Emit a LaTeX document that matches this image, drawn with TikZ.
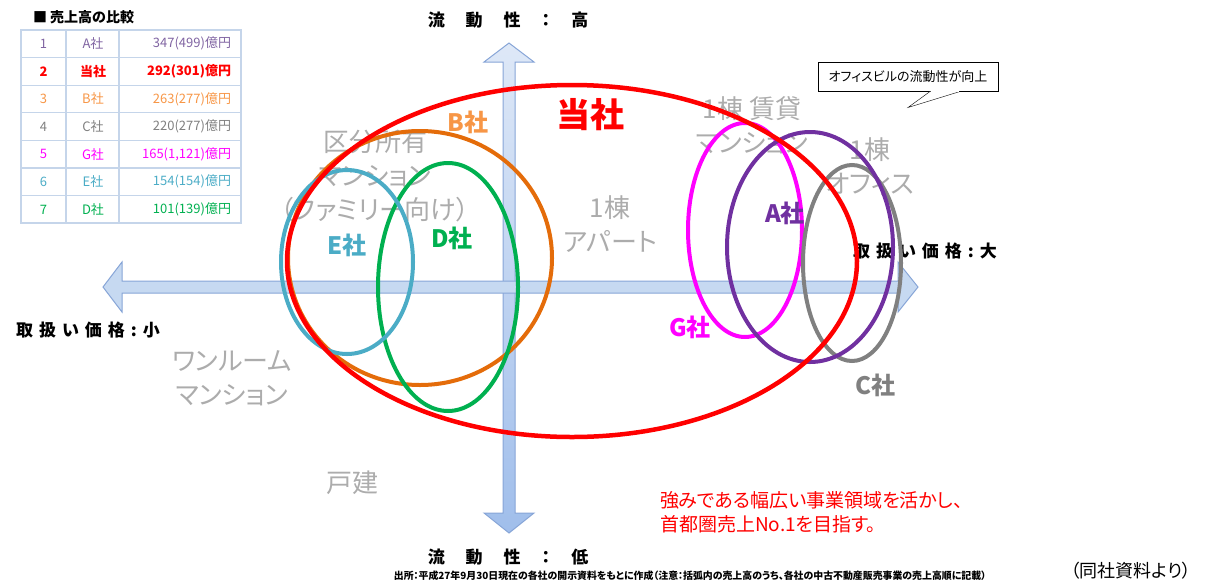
\documentclass[tikz,border=0pt]{standalone}
\usepackage{fontspec}
\setmainfont{Noto Sans CJK JP}[RawFeature={+palt}]
\usetikzlibrary{positioning}

\newcommand\fsz[2]{\fontsize{#1}{#2}\selectfont}
\def\gap{\hspace{21pt}}
\def\sgap{\hspace{6pt}}

\definecolor{axisline}{RGB}{135,165,215}
\definecolor{axisfill}{RGB}{198,217,241}
\definecolor{axistop}{RGB}{222,232,247}
\definecolor{axisbottom}{RGB}{160,190,235}
\definecolor{areagray}{RGB}{172,172,172}
\definecolor{tabgrid}{RGB}{197,213,234}
\definecolor{ringA}{RGB}{112,48,160}
\definecolor{ringB}{RGB}{228,108,10}
\definecolor{ringC}{RGB}{128,128,128}
\definecolor{ringD}{RGB}{0,176,80}
\definecolor{ringE}{RGB}{75,172,198}
\definecolor{ringG}{RGB}{255,0,255}
\definecolor{labelB}{RGB}{247,150,70}
\definecolor{tabA}{RGB}{128,100,162}

\begin{document}
\begin{tikzpicture}[x=1pt,y=-1pt,
    every node/.style={inner sep=0pt,outer sep=0pt},
    axisarrow/.style={draw=axisline,line width=1pt},
    axistext/.style={font=\bfseries\fsz{17}{17}},
    areatext/.style={text=areagray,align=center,font=\fsz{26}{34}},
    ring/.style={line width=4pt},
    firm/.style={font=\bfseries\fsz{24}{24}},
    gridline/.style={draw=tabgrid,line width=1.2pt}]
\useasboundingbox (0,0) rectangle (1213,582);

% table rows
\def\tabrow#1/#2/#3/#4/#5;{%
    \node[text=#2,font=#5\fsz{13}{13}] (rank#1) at (43.5,{16.2+27.6*#1}) {#1};
    \node[text=#2,font=#5\fsz{13}{13}] (name#1) at (93,{16.2+27.6*#1}) {#3};
    \node[text=#2,font=#5\fsz{13}{13},anchor=east] (sales#1) at (231,{16.2+27.6*#1}) {#4};}

% axes
\draw[axisarrow,top color=axistop,bottom color=axisbottom]
    (509,43) -- (534,62) -- (515,62) -- (515,513) -- (534,513) -- (509,533) --
    (484,513) -- (503,513) -- (503,62) -- (484,62) -- cycle;
\draw[axisarrow,fill=axisfill]
    (103,287) -- (122,262) -- (122,281) -- (898,281) -- (898,262) -- (918,287) --
    (898,312) -- (898,293) -- (122,293) -- (122,312) -- cycle;

\node[axistext] (liqhigh) at (508,20) {流\gap 動\gap 性\gap ：\gap 高};
\node[axistext] (liqlow) at (508,557) {流\gap 動\gap 性\gap ：\gap 低};
\node[axistext] (pricelow) at (88,330) {取\sgap 扱\sgap い\sgap 価\sgap 格\sgap :\sgap 小};
\node[axistext] (pricehigh) at (925,251) {取\sgap 扱\sgap い\sgap 価\sgap 格\sgap :\sgap 大};

% market areas
\node[areatext] (family) at (375,176) {区分所有\\マンション\\（ファミリー向け）};
\node[areatext] (apart) at (610,224) {1棟\\アパート};
\node[areatext] (rental) at (752,125) {1棟 賃貸\\マンション};
\node[areatext] (office) at (870,167) {1棟\\オフィス};
\node[areatext] (oneroom) at (232,378) {ワンルーム\\マンション};
\node[areatext] (house) at (352,483) {戸建};

% companies
\draw[ring,draw=ringB] (420,258) ellipse [x radius=132pt,y radius=127pt];
\draw[ring,draw=ringD] (448,287) ellipse [x radius=70pt,y radius=124pt];
\draw[ring,draw=ringE] (347,262) ellipse [x radius=66pt,y radius=92pt];
\draw[ring,draw=ringG] (745,230) ellipse [x radius=57pt,y radius=107pt];
\draw[ring,draw=ringC] (852,263) ellipse [x radius=49pt,y radius=98pt];
\draw[ring,draw=ringA] (810,247) ellipse [x radius=83pt,y radius=115pt];
\draw[ring,draw=red,line width=4.5pt] (572,261) ellipse [x radius=285pt,y radius=176pt];

\node[firm,text=red,font=\bfseries\fsz{34}{34}] (ours) at (590,115) {当社};
\node[firm,text=labelB] (firmB) at (468,122) {B社};
\node[firm,text=ringE] (firmE) at (347,245) {E社};
\node[firm,text=ringD] (firmD) at (452,238) {D社};
\node[firm,text=ringG] (firmG) at (690,327) {G社};
\node[firm,text=ringA] (firmA) at (785,213) {A社};
\node[firm,text=ringC] (firmC) at (875,385) {C社};

% callout
\node[draw,fill=white,minimum width=180pt,minimum height=29pt,font=\fsz{13}{13}] (bubble) at (908,77) {オフィスビルの流動性が向上};
\draw[fill=white] ([xshift=22pt]bubble.south) -- ++(-22,16) -- ([xshift=52pt]bubble.south);
\draw[white,line width=1.5pt] ([xshift=23pt]bubble.south) -- ([xshift=51pt]bubble.south);

\node[text=red,align=left,anchor=west,font=\fsz{19}{24}] (goal) at (660,512) {強みである幅広い事業領域を活かし、\\首都圏売上No.1を目指す。};

% table
\node[anchor=west,font=\bfseries\fsz{14}{14}] (tabtitle) at (33,17) {■ 売上高の比較};
\draw[gridline] (21,30) rectangle (241,223);
\foreach \k in {1,...,6}
    \draw[gridline] (21,{30+27.6*\k}) -- (241,{30+27.6*\k});
\draw[gridline] (66,30) -- (66,223);
\draw[gridline] (119,30) -- (119,223);
\tabrow 1/tabA/A社/347(499)億円/;
\tabrow 2/red/当社/292(301)億円/\bfseries;
\tabrow 3/labelB/B社/263(277)億円/;
\tabrow 4/ringC/C社/220(277)億円/;
\tabrow 5/ringG/G社/165(1,121)億円/;
\tabrow 6/ringE/E社/154(154)億円/;
\tabrow 7/ringD/D社/101(139)億円/;

\node[font=\bfseries\fsz{9.9}{10}] (source) at (690,576) {出所：平成27年9月30日現在の各社の開示資料をもとに作成（注意：括弧内の売上高のうち、各社の中古不動産販売事業の売上高順に記載）};
\node[font=\fsz{18}{18}] (cite) at (1131,571) {（同社資料より）};
\end{tikzpicture}
\end{document}
